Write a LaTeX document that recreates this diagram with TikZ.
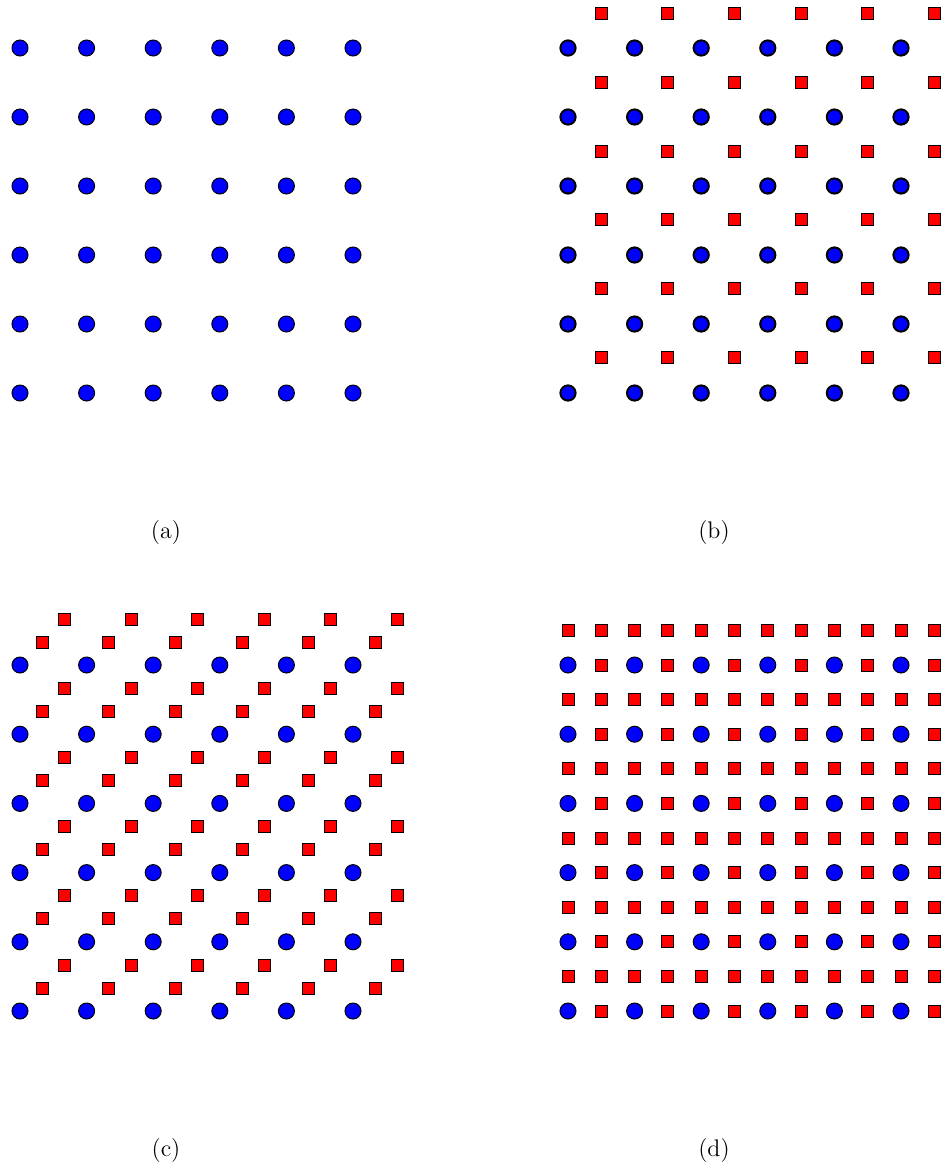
\documentclass[tikz,border=0pt]{standalone}
\begin{document}
\begin{tikzpicture}[x=0.5pt,y=-0.5pt,
  dot/.style={circle, fill=blue, draw=black, line width=0.5pt, inner sep=0pt, minimum size=8pt},
  dotb/.style={dot, line width=1pt, minimum size=7.6pt},
  sq/.style={rectangle, fill=red, draw=black, line width=0.5pt, inner sep=0pt, minimum size=6pt},
  lab/.style={font=\fontsize{12}{14}\selectfont, inner sep=0pt}]
\useasboundingbox (0,0) rectangle (944,1169);
% (a)
\foreach \i in {0,...,5}{
  \foreach \j in {0,...,5}{
    \node[dot] (a-\i-\j) at ({20+66.6*\i},{48+69*\j}) {};
  }
}
% (b)
\foreach \i in {0,...,5}{
  \foreach \j in {0,...,5}{
    \node[dotb] (b-\i-\j) at ({568+66.6*\i},{48+69*\j}) {};
    \node[sq] (bs-\i-\j) at ({601.3+66.6*\i},{13.5+68.8*\j}) {};
  }
}
% (c)
\foreach \i in {0,...,5}{
  \foreach \j in {0,...,5}{
    \node[dot] (c-\i-\j) at ({20+66.6*\i},{665+69.2*\j}) {};
    \node[sq] (cs1-\i-\j) at ({42.2+66.6*\i},{642+69.2*\j}) {};
    \node[sq] (cs2-\i-\j) at ({64.4+66.6*\i},{619+69.2*\j}) {};
  }
}
% (d)
\foreach \k in {0,...,11}{
  \foreach \m in {0,...,11}{
    \pgfmathtruncatemacro{\isdot}{(mod(\m,2)==1)&&(mod(\k,2)==0)}
    \ifnum\isdot=1
      \node[dot] (d-\k-\m) at ({568+33.3*\k},{630.4+34.6*\m}) {};
    \else
      \node[sq] (d-\k-\m) at ({568+33.3*\k},{630.4+34.6*\m}) {};
    \fi
  }
}
\node[lab] (la) at (166,532) {(a)};
\node[lab] (lb) at (714,532) {(b)};
\node[lab] (lc) at (166,1150) {(c)};
\node[lab] (ld) at (714,1150) {(d)};
\end{tikzpicture}
\end{document}
